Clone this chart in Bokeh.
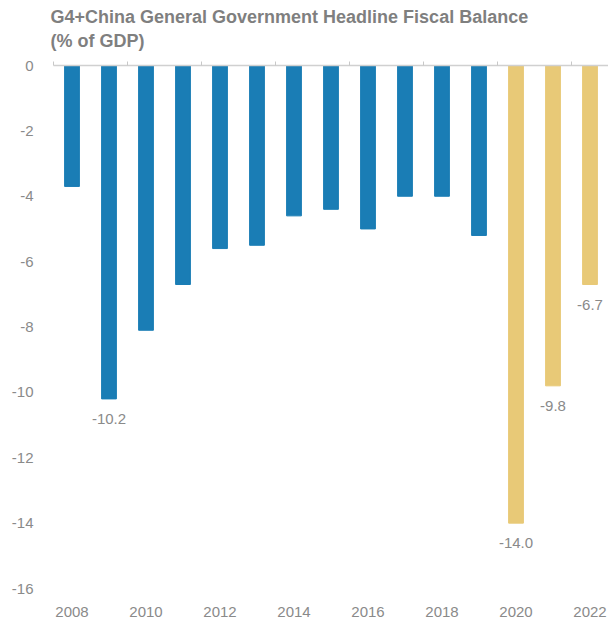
from bokeh.plotting import figure
from bokeh.models import (ColumnDataSource, LinearAxis, FixedTicker, Range1d, Title,
                          CustomLabelingPolicy)
from bokeh.core.properties import value
from bokeh.embed import file_html
from bokeh.resources import INLINE

# ---- data ----
years = [2008, 2009, 2010, 2011, 2012, 2013, 2014, 2015, 2016, 2017, 2018, 2019, 2020, 2021, 2022]
balance = [-3.7, -10.2, -8.1, -6.7, -5.6, -5.5, -4.6, -4.4, -5.0, -4.0, -4.0, -5.2, -14.0, -9.8, -6.7]
labelled_years = [2009, 2020, 2021, 2022]
y_ticks = [0, -2, -4, -6, -8, -10, -12, -14, -16]
x_ticks = [2008, 2010, 2012, 2014, 2016, 2018, 2020, 2022]
title_line1 = "G4+China General Government Headline Fiscal Balance"
title_line2 = "(% of GDP)"

BLUE = "#1a7db5"
GOLD = "#e8c977"
GREY = "#8a8a8a"
FONT = "Liberation Sans"

colors = [GOLD if y >= 2020 else BLUE for y in years]
src = ColumnDataSource(dict(x=years, top=[0] * len(years), bottom=balance, color=colors))

lab_vals = [balance[years.index(y)] for y in labelled_years]
lab_src = ColumnDataSource(dict(x=labelled_years, y=lab_vals, t=[f"{v:.1f}" for v in lab_vals]))

p = figure(width=608, height=619, output_backend="svg", toolbar_location=None,
           x_range=Range1d(years[0] - 0.5, years[-1] + 0.5), y_range=Range1d(-16, 0),
           x_axis_location="below")
p.min_border_left = 53
p.min_border_right = 0
p.min_border_bottom = 31
p.min_border_top = 65
p.outline_line_color = None
p.grid.grid_line_color = None
p.background_fill_color = "white"
p.border_fill_color = "white"

p.vbar(x="x", width=0.4, top="top", bottom="bottom", color="color", source=src)
p.text(x="x", y="y", text="t", source=lab_src, text_align="center", text_baseline="middle",
       y_offset=20, text_color=GREY, text_font=value(FONT), text_font_size="15px")

# y axis
ya = p.yaxis[0]
ya.ticker = FixedTicker(ticks=y_ticks)
ya.major_label_overrides = {t: str(t) for t in y_ticks}
ya.axis_line_color = None
ya.major_tick_line_color = None
ya.minor_tick_line_color = None
ya.major_label_standoff = 14
ya.major_label_text_color = GREY
ya.major_label_text_font = FONT
ya.major_label_text_font_size = "15px"

# x axis (labels only)
xa = p.xaxis[0]
xa.ticker = FixedTicker(ticks=x_ticks)
xa.axis_line_color = None
xa.major_tick_line_color = None
xa.minor_tick_line_color = None
xa.major_label_standoff = 12
xa.major_label_text_color = GREY
xa.major_label_text_font = FONT
xa.major_label_text_font_size = "15px"

# zero line with upward ticks between year pairs (no labels)
top_ax = LinearAxis(ticker=FixedTicker(ticks=[y - 0.5 for y in x_ticks]))
top_ax.axis_line_color = "#d0d0d0"
top_ax.axis_line_width = 1.5
top_ax.major_tick_line_color = "#c8c8c8"
top_ax.major_tick_out = 4
top_ax.major_tick_in = 0
top_ax.minor_tick_line_color = None
top_ax.major_label_standoff = 0
top_ax.major_label_text_font_size = "10px"
top_ax.major_label_policy = CustomLabelingPolicy(
    code="const all = [...indices]; for (const i of all) indices.unset(i); return indices;")
p.add_layout(top_ax, "above")

t2 = Title(text=title_line2, text_color="#7f7f7f", text_font=FONT, text_font_size="18px",
           text_font_style="bold", align="left", offset=-3, standoff=0)
t1 = Title(text=title_line1, text_color="#7f7f7f", text_font=FONT, text_font_size="18px",
           text_font_style="bold", align="left", offset=-3, standoff=3)
p.add_layout(t2, "above")
p.add_layout(t1, "above")

open("out.html", "w").write(file_html(p, INLINE))
